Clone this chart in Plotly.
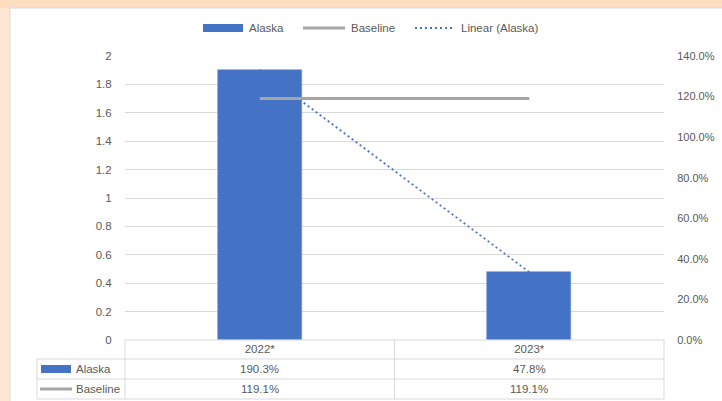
import numpy as np
import plotly.graph_objects as go

# ---- data -------------------------------------------------------------
categories = ["2022*", "2023*"]
alaska = [1.903, 0.478]
baseline = [1.191, 1.191]
series_names = ["Alaska", "Baseline", "Linear (Alaska)"]

# ---- styling ----------------------------------------------------------
W, H = 722, 401
L, R, T, B = 125, 58, 56, 61          # plot-area margins in px
PW, PH = W - L - R, H - T - B
BLUE, GRAY, TXT, GRID = "#4472C4", "#A5A5A5", "#595959", "#D9D9D9"
FONT = "Liberation Sans, Arial"
DOT = "2px,3px"


def px(x):
    return (x - L) / PW


def py(y):
    return (H - B - y) / PH


# linear trendline fitted to the Alaska series
xi = np.arange(len(alaska))
slope, icpt = np.polyfit(xi, alaska, 1)
trend = list(slope * xi + icpt)

fig = go.Figure()
fig.add_trace(go.Bar(x=categories, y=alaska, name=series_names[0],
                     marker=dict(color=BLUE, line=dict(color="#6A8FD3", width=0.6)),
                     width=0.31, yaxis="y"))
fig.add_trace(go.Scatter(x=categories, y=baseline, name=series_names[1],
                         mode="lines", line=dict(color=GRAY, width=3), yaxis="y2"))
fig.add_trace(go.Scatter(x=categories, y=trend, name=series_names[2],
                         mode="lines", line=dict(color=BLUE, width=1.8, dash=DOT),
                         yaxis="y"))

shapes = []
ann = []

# background: peach frame with a warmer band along the top, white panel on it
shapes.append(dict(type="rect", xref="paper", yref="paper", layer="below",
                   x0=px(-2), x1=px(W + 2), y0=py(-2), y1=py(8),
                   fillcolor="#FCDDBF", line=dict(width=0)))
shapes.append(dict(type="rect", xref="paper", yref="paper", layer="below",
                   x0=px(10), x1=px(W + 2), y0=py(8), y1=py(H + 2),
                   fillcolor="white", line=dict(color="#D5DBE3", width=1)))

# ---- legend (top centre) ---------------------------------------------
ly = 28
shapes.append(dict(type="rect", xref="paper", yref="paper",
                   x0=px(203), x1=px(243), y0=py(ly - 4), y1=py(ly + 4),
                   fillcolor=BLUE, line=dict(width=0)))
shapes.append(dict(type="line", xref="paper", yref="paper",
                   x0=px(303), x1=px(345), y0=py(ly), y1=py(ly),
                   line=dict(color=GRAY, width=3)))
shapes.append(dict(type="line", xref="paper", yref="paper",
                   x0=px(415), x1=px(455), y0=py(ly), y1=py(ly),
                   line=dict(color=BLUE, width=1.8, dash=DOT)))
for xpos, name in zip([247, 349, 459], series_names):
    ann.append(dict(xref="paper", yref="paper", x=px(xpos), y=py(ly),
                    text=name, showarrow=False, xanchor="left", yanchor="middle",
                    font=dict(size=11.5, color=TXT, family=FONT)))

# ---- data table below the plot ----------------------------------------
tab_left, tab_key = 37, L
col_edges = [L, L + PW / 2, L + PW]
row_lines = [H - B, 359, 379, 399]
tline = dict(color=GRID, width=1)
# horizontal rules
shapes.append(dict(type="line", xref="paper", yref="paper",
                   x0=px(tab_key), x1=px(col_edges[-1]), y0=py(row_lines[0]),
                   y1=py(row_lines[0]), line=tline))
for yy in row_lines[1:]:
    shapes.append(dict(type="line", xref="paper", yref="paper",
                       x0=px(tab_left), x1=px(col_edges[-1]), y0=py(yy), y1=py(yy),
                       line=tline))
# vertical rules
for xx in col_edges:
    shapes.append(dict(type="line", xref="paper", yref="paper",
                       x0=px(xx), x1=px(xx), y0=py(row_lines[0]), y1=py(row_lines[-1]),
                       line=tline))
shapes.append(dict(type="line", xref="paper", yref="paper",
                   x0=px(tab_left), x1=px(tab_left), y0=py(row_lines[1]),
                   y1=py(row_lines[-1]), line=tline))

# row keys
r1 = (row_lines[1] + row_lines[2]) / 2
r2 = (row_lines[2] + row_lines[3]) / 2
shapes.append(dict(type="rect", xref="paper", yref="paper",
                   x0=px(41), x1=px(71), y0=py(r1 - 4), y1=py(r1 + 4),
                   fillcolor=BLUE, line=dict(width=0)))
shapes.append(dict(type="line", xref="paper", yref="paper",
                   x0=px(40), x1=px(72), y0=py(r2), y1=py(r2),
                   line=dict(color=GRAY, width=3)))
for yy, name in [(r1, series_names[0]), (r2, series_names[1])]:
    ann.append(dict(xref="paper", yref="paper", x=px(74), y=py(yy), text=name,
                    showarrow=False, xanchor="left", yanchor="middle",
                    font=dict(size=11.5, color=TXT, family=FONT)))

# cell values
centers = [(col_edges[i] + col_edges[i + 1]) / 2 for i in range(len(categories))]
for i, cx in enumerate(centers):
    for yy, vals in [(r1, alaska), (r2, baseline)]:
        ann.append(dict(xref="paper", yref="paper", x=px(cx), y=py(yy),
                        text=f"{vals[i] * 100:.1f}%", showarrow=False,
                        xanchor="center", yanchor="middle",
                        font=dict(size=11.5, color=TXT, family=FONT)))

fig.update_layout(
    width=W, height=H,
    margin=dict(l=L, r=R, t=T, b=B, autoexpand=False),
    paper_bgcolor="#FDE7D4",
    plot_bgcolor="white",
    showlegend=False,
    font=dict(family=FONT, size=11.5, color=TXT),
    shapes=shapes,
    annotations=ann,
    bargap=0,
    xaxis=dict(showgrid=False, showline=False, zeroline=False, automargin=False,
               ticks="", tickfont=dict(size=11.5, color=TXT), fixedrange=True),
    yaxis=dict(range=[0, 2], dtick=0.2, showgrid=True, gridcolor=GRID,
               gridwidth=1, zeroline=False, showline=False, automargin=False,
               ticks="outside", ticklen=10, tickcolor="rgba(0,0,0,0)",
               tickfont=dict(size=11.5, color=TXT)),
    yaxis2=dict(range=[0, 1.4], dtick=0.2, tickformat=".1%", overlaying="y",
                side="right", showgrid=False, zeroline=False, showline=False,
                automargin=False,
                ticks="outside", ticklen=10, tickcolor="rgba(0,0,0,0)",
                tickfont=dict(size=11, color=TXT)),
)

fig.write_html("out.html")
